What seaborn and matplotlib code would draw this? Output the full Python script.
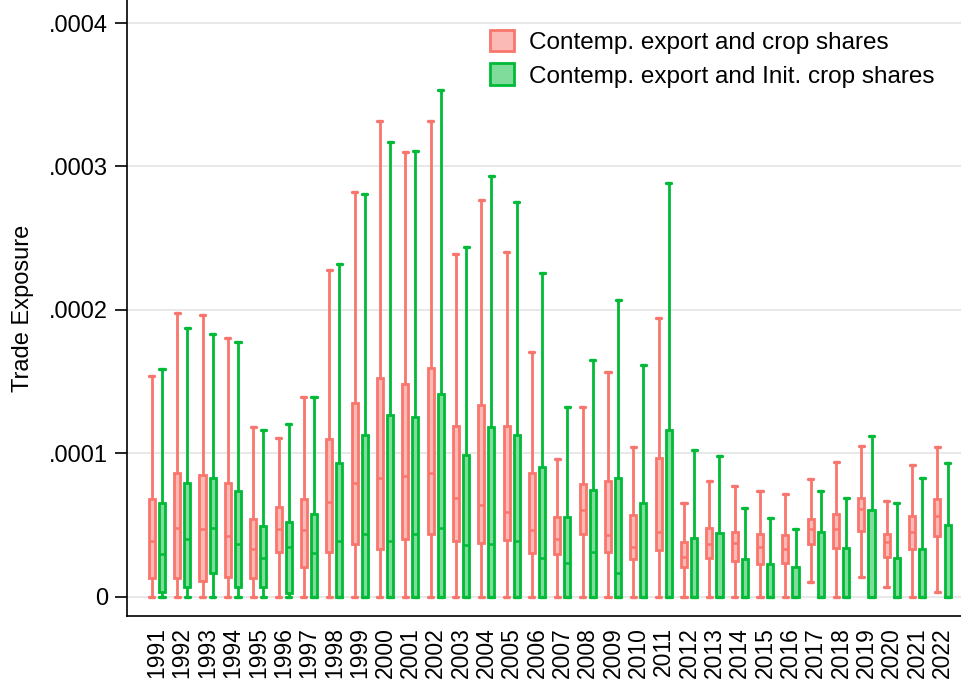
import numpy as np
import pandas as pd
import matplotlib
matplotlib.use("Agg")
import matplotlib.pyplot as plt
import seaborn as sns
from matplotlib.patches import Patch

years = list(range(1991, 2023))

# Box statistics, in units of 1e-4 (min, q1, median, q3, max)
red_low = [0, 0, 0, 0, 0, 0, 0, 0, 0, 0, 0, 0, 0, 0, 0, 0, 0, 0, 0, 0, 0, 0,
           0, 0, 0, 0, 0.10, 0, 0.14, 0.07, 0, 0.035]
red_q1 = [0.13, 0.13, 0.11, 0.135, 0.13, 0.31, 0.21, 0.31, 0.37, 0.335, 0.40, 0.44,
          0.39, 0.375, 0.395, 0.305, 0.295, 0.44, 0.315, 0.265, 0.325, 0.205,
          0.27, 0.25, 0.225, 0.235, 0.37, 0.34, 0.46, 0.28, 0.33, 0.425]
red_med = [0.39, 0.48, 0.475, 0.42, 0.33, 0.475, 0.465, 0.66, 0.795, 0.83, 0.84, 0.865,
           0.69, 0.64, 0.59, 0.465, 0.40, 0.605, 0.43, 0.35, 0.45, 0.28,
           0.365, 0.375, 0.345, 0.335, 0.47, 0.47, 0.615, 0.38, 0.45, 0.56]
red_q3 = [0.68, 0.86, 0.85, 0.795, 0.545, 0.625, 0.68, 1.10, 1.35, 1.525, 1.48, 1.595,
          1.19, 1.335, 1.19, 0.865, 0.555, 0.785, 0.81, 0.57, 0.97, 0.38,
          0.48, 0.45, 0.44, 0.43, 0.54, 0.58, 0.69, 0.435, 0.565, 0.68]
red_high = [1.54, 1.98, 1.965, 1.805, 1.18, 1.105, 1.39, 2.28, 2.825, 3.32, 3.10, 3.32,
            2.39, 2.765, 2.405, 1.705, 0.96, 1.32, 1.57, 1.045, 1.945, 0.65,
            0.805, 0.77, 0.74, 0.715, 0.82, 0.94, 1.05, 0.67, 0.92, 1.045]

green_low = [0] * 32
green_q1 = [0.035, 0.065, 0.165, 0.065, 0.065, 0.024, 0.0, 0, 0, 0, 0, 0,
            0, 0, 0, 0, 0, 0, 0, 0, 0, 0, 0, 0, 0, 0, 0, 0, 0, 0, 0, 0]
green_med = [0.30, 0.40, 0.48, 0.365, 0.27, 0.345, 0.305, 0.385, 0.435, 0.39, 0.435, 0.48,
             0.36, 0.37, 0.39, 0.27, 0.235, 0.31, 0.165, 0, 0, 0,
             0, 0, 0, 0, 0, 0, 0, 0, 0, 0]
green_q3 = [0.65, 0.79, 0.825, 0.74, 0.495, 0.52, 0.58, 0.935, 1.125, 1.265, 1.255, 1.415,
            0.99, 1.18, 1.13, 0.905, 0.555, 0.745, 0.83, 0.655, 1.165, 0.41,
            0.445, 0.26, 0.23, 0.21, 0.45, 0.34, 0.605, 0.27, 0.33, 0.50]
green_high = [1.59, 1.875, 1.83, 1.775, 1.165, 1.205, 1.39, 2.32, 2.805, 3.17, 3.11, 3.535,
              2.44, 2.935, 2.755, 2.255, 1.32, 1.65, 2.07, 1.615, 2.885, 1.02,
              0.98, 0.62, 0.55, 0.47, 0.74, 0.69, 1.12, 0.65, 0.83, 0.935]

series_names = ["Contemp. export and crop shares", "Contemp. export and Init. crop shares"]
edge_colors = ["#F8766D", "#00BA38"]
fill_colors = ["#FBBAB6", "#80DC9B"]
SCALE = 1e-4

series_stats = {
    series_names[0]: (red_low, red_q1, red_med, red_q3, red_high),
    series_names[1]: (green_low, green_q1, green_med, green_q3, green_high),
}

rows = []
for i, yr in enumerate(years):
    for name in series_names:
        for arr in series_stats[name]:
            rows.append({"year": str(yr), "series": name, "value": arr[i] * SCALE})
df = pd.DataFrame(rows)

sns.set_theme(style="white")
plt.rcParams["font.family"] = ["Liberation Sans", "DejaVu Sans"]
for k in ["text.color", "axes.labelcolor", "xtick.color", "ytick.color"]:
    plt.rcParams[k] = "black"

fig = plt.figure(figsize=(9.62, 6.84), dpi=100)
ax = fig.add_axes([127 / 962, 68 / 684, 835 / 962, 616 / 684])

sns.boxplot(
    data=df, x="year", y="value", hue="series", hue_order=series_names,
    order=[str(y) for y in years],
    palette=dict(zip(series_names, fill_colors)),
    whis=(0, 100), width=0.8, gap=0.4, dodge=True, saturation=1,
    linewidth=2.0, fliersize=0, legend=False, ax=ax,
)

# Recolour edges per series, narrow caps
for cont, ec in zip(ax.containers, edge_colors):
    for box in cont.boxes:
        box.set_edgecolor(ec)
        box.set_linewidth(2.0)
    for ln in list(cont.whiskers) + list(cont.medians):
        ln.set_color(ec)
    for ln in cont.medians:
        ln.set_linewidth(1.8)
    for ln in cont.caps:
        ln.set_color(ec)
        ln.set_linewidth(2.4)
        xd = np.asarray(ln.get_xdata(), dtype=float)
        c = xd.mean()
        ln.set_xdata([c - 0.1, c + 0.1])

ax.set_xlim(-1.18, 31.77)
ax.set_ylim(-0.1346e-4, 4.161e-4)

yt = [0, 1e-4, 2e-4, 3e-4, 4e-4]
ax.set_yticks(yt)
ax.set_yticklabels(["0" if v == 0 else f"{v:.4f}".lstrip("0") for v in yt], fontsize=17)
ax.tick_params(axis="y", which="major", length=8.5, width=1.2, color="black", pad=5, left=True)
ax.tick_params(axis="x", length=0, pad=8)
plt.setp(ax.get_xticklabels(), rotation=90, fontsize=16.5)

ax.yaxis.grid(True, color="#E6E6E6", linewidth=1.3)
ax.xaxis.grid(False)
ax.set_axisbelow(True)

for s in ["top", "right"]:
    ax.spines[s].set_visible(False)
for s in ["left", "bottom"]:
    ax.spines[s].set_color("black")
    ax.spines[s].set_linewidth(1.2)

ax.set_xlabel("")
ax.set_ylabel("Trade Exposure", fontsize=17, labelpad=11)

handles = [Patch(facecolor=fc, edgecolor=ec, linewidth=2, label=n)
           for fc, ec, n in zip(fill_colors, edge_colors, series_names)]
ax.legend(handles=handles, loc="upper left", bbox_to_anchor=(0.4347, 0.952),
          frameon=False, fontsize=17.5, handlelength=1.0, handleheight=1.0,
          handletextpad=0.6, labelspacing=0.4, borderaxespad=0, borderpad=0)

fig.savefig("out.png", dpi=100)
